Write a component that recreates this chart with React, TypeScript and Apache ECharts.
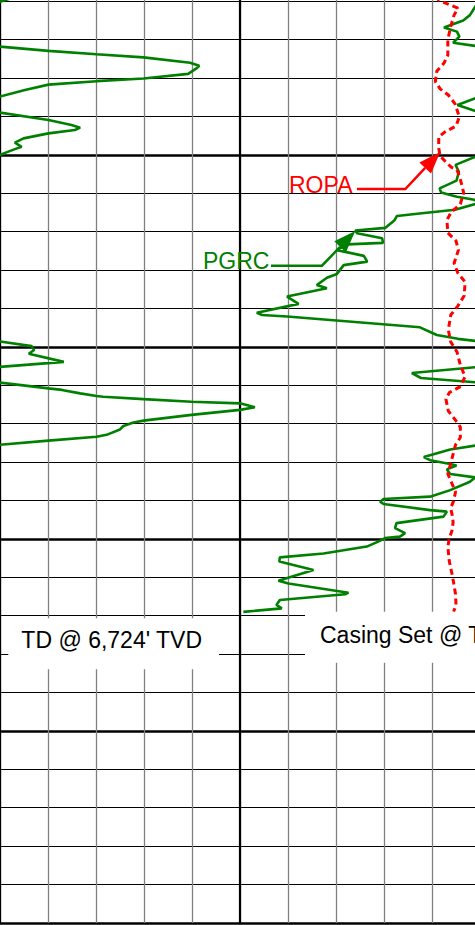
import React, { useEffect, useRef } from "react";
import * as echarts from "echarts";

// Depth (ft, TVD) and PGRC gamma ray (track units, 10 per division; >100 wraps)
const GR_DEPTH = [
  6558.9, 6560.1, 6561.4, 6563.6, 6565.0, 6566.8, 6567.9, 6569.2, 6570.8, 6571.8,
  6572.9, 6573.8, 6574.6, 6576.0, 6576.8, 6577.4, 6578.9, 6580.1, 6580.8, 6581.7,
  6583.1, 6584.8, 6587.0, 6589.0, 6590.9, 6592.2, 6592.9, 6593.5, 6594.4, 6595.7,
  6596.8, 6597.9, 6598.5, 6600.0, 6602.6, 6604.4, 6606.7, 6608.7, 6609.8, 6610.9,
  6611.7, 6612.3, 6612.8, 6614.3, 6615.2, 6615.9, 6617.0, 6619.0, 6619.7, 6620.4,
  6621.7, 6622.9, 6623.3, 6624.8, 6626.3, 6627.8, 6628.7, 6630.0, 6631.0, 6632.0,
  6633.9, 6634.7, 6636.9, 6638.8, 6641.1, 6641.7, 6642.1, 6644.9, 6646.9, 6647.9,
  6648.6, 6649.8, 6650.8, 6651.8, 6653.9, 6655.2, 6656.8, 6658.1, 6659.3, 6660.8,
  6661.2, 6662.1, 6662.8, 6663.0, 6663.6, 6664.3, 6664.7, 6665.7, 6666.4, 6667.7,
  6669.2, 6669.7, 6670.6, 6671.5, 6672.9, 6673.4, 6674.4, 6675.5, 6676.7, 6678.7,
  6679.5, 6680.5, 6680.9, 6681.9, 6683.1, 6684.0, 6685.1, 6687.3, 6689.0, 6689.6,
  6690.3, 6690.9, 6692.5, 6692.9, 6694.2, 6695.9, 6697.2, 6698.5, 6699.4, 6699.8,
  6700.7, 6702.0, 6703.8, 6704.8, 6705.9, 6708.1, 6710.9, 6711.6, 6714.0, 6714.4,
  6715.9, 6717.2, 6718.1, 6719.0,
];
const GR_API = [
  103.1, 100.0, 99.0, 97.9, 96.5, 92.5, 95.2, 95.7, 94.4, 100.0,
  110.1, 120.1, 129.9, 139.6, 141.5, 141.0, 139.2, 129.9, 120.1, 110.1,
  105.2, 100.0, 95.3, 100.0, 110.1, 114.9, 116.7, 115.6, 110.1, 104.9,
  103.1, 104.5, 103.1, 100.0, 94.9, 95.6, 95.1, 91.6, 91.9, 95.2,
  98.8, 99.6, 99.0, 94.8, 87.9, 82.7, 82.2, 80.3, 74.0, 74.4,
  79.6, 79.8, 72.3, 70.2, 75.8, 76.5, 71.6, 70.8, 70.2, 68.1,
  66.0, 68.1, 59.8, 62.2, 53.5, 54.6, 59.8, 87.5, 91.0, 95.4,
  100.0, 106.6, 107.1, 106.0, 113.3, 100.0, 85.8, 87.7, 100.0, 110.1,
  112.9, 116.7, 120.1, 121.5, 129.9, 139.9, 150.0, 153.1, 150.0, 139.9,
  129.9, 127.8, 125.7, 125.0, 122.2, 120.1, 110.1, 100.0, 93.8, 88.3,
  89.6, 93.8, 95.1, 93.1, 93.8, 99.0, 97.9, 93.8, 89.6, 79.9,
  79.2, 79.9, 89.6, 93.1, 92.4, 82.6, 82.3, 84.4, 83.3, 80.2,
  78.8, 76.4, 67.4, 58.3, 58.2, 65.3, 58.0, 60.1, 72.6, 71.9,
  58.3, 57.6, 58.7, 50.7,
];

// ROPA (same track scale)
const ROP_DEPTH = [
  6558.6, 6559.7, 6560.6, 6561.8, 6563.6, 6567.0, 6570.1, 6574.0, 6576.1, 6578.2,
  6580.9, 6582.8, 6584.4, 6586.7, 6590.1, 6592.5, 6594.0, 6595.3, 6598.2, 6600.3,
  6601.6, 6603.2, 6603.9, 6605.8, 6609.9, 6612.8, 6614.9, 6617.0, 6620.3, 6622.4,
  6624.8, 6628.2, 6630.8, 6633.1, 6636.7, 6639.3, 6641.7, 6645.6, 6648.7, 6651.3,
  6654.7, 6657.8, 6660.4, 6661.9, 6663.6, 6666.7, 6668.9, 6670.9, 6673.6, 6675.5,
  6678.4, 6680.8, 6683.1, 6685.7, 6687.8, 6690.1, 6692.0, 6693.8, 6695.6, 6697.7,
  6699.9, 6702.0, 6705.8, 6709.9, 6714.4, 6717.2, 6719.0,
];
const ROP_VALUE = [
  90.8, 91.4, 93.1, 95.4, 94.6, 93.8, 93.3, 93.3, 92.5, 91.0,
  90.7, 91.7, 93.4, 94.8, 95.7, 95.0, 92.7, 91.4, 91.4, 91.7,
  92.7, 94.0, 95.2, 95.8, 96.6, 95.9, 94.0, 93.1, 93.3, 95.0,
  95.5, 94.6, 95.4, 96.9, 96.7, 95.4, 93.9, 93.4, 93.9, 95.2,
  95.9, 96.9, 95.8, 93.6, 92.9, 93.4, 94.8, 95.9, 95.9, 94.9,
  94.3, 93.8, 93.3, 94.2, 94.9, 94.5, 93.9, 94.2, 94.4, 94.2,
  93.6, 93.3, 93.6, 94.3, 94.9, 95.0, 94.5,
];

const WRAP_SHIFT = 100;
const FONT = '23px "Liberation Sans", Arial, Helvetica, sans-serif';
const GREEN = "#008000";
const RED = "#ff0000";

function arrowHead(tip: number[], from: number[], len: number, half: number) {
  const dx = tip[0] - from[0];
  const dy = tip[1] - from[1];
  const l = Math.hypot(dx, dy);
  const ux = dx / l, uy = dy / l;
  const bx = tip[0] - ux * len, by = tip[1] - uy * len;
  return {
    base: [bx, by],
    pts: [tip, [bx - uy * half, by + ux * half], [bx + uy * half, by - ux * half]],
  };
}

const hiddenAxis = {
  axisLine: { show: false },
  axisTick: { show: false },
  axisLabel: { show: false },
};

export default function App() {
  const ref = useRef<HTMLDivElement>(null);
  useEffect(() => {
    const chart = echarts.init(ref.current!, null, { renderer: "svg" });
    const grMain = GR_DEPTH.map((d, i) => [GR_API[i], d]);
    const grWrap = GR_DEPTH.map((d, i) => [GR_API[i] - WRAP_SHIFT, d]);
    const rop = ROP_DEPTH.map((d, i) => [ROP_VALUE[i], d]);

    const ropTip = [440.3, 152];
    const ropBend = [405.3, 189];
    const ropArrow = arrowHead(ropTip, ropBend, 22, 8);
    const grTip = [355.3, 231];
    const grBend = [322, 265.7];
    const grArrow = arrowHead(grTip, grBend, 22, 8);

    chart.setOption({
      animation: false,
      backgroundColor: "#ffffff",
      grid: { left: 0, top: -37.1, width: 480, height: 960, outerBoundsMode: "none", containLabel: false },
      xAxis: [
        {
          type: "value", min: 0, max: 100, interval: 10, position: "bottom", ...hiddenAxis,
          splitLine: { show: true, lineStyle: { color: "#808080", width: 1.3 } },
        },
        {
          type: "value", min: 0, max: 100, interval: 50, position: "top", ...hiddenAxis,
          splitLine: { show: true, lineStyle: { color: "#000000", width: 2.2 } },
        },
      ],
      yAxis: [
        {
          type: "value", inverse: true, min: 6550, max: 6800, interval: 10, position: "left", ...hiddenAxis,
          splitLine: { show: true, lineStyle: { color: "#000000", width: 1 } },
        },
        {
          type: "value", inverse: true, min: 6550, max: 6800, interval: 50, position: "right", ...hiddenAxis,
          splitLine: { show: true, lineStyle: { color: "#000000", width: 2.5 } },
        },
      ],
      series: [
        {
          name: "PGRC", type: "line", data: grMain, symbol: "none", clip: true,
          lineStyle: { color: GREEN, width: 2.6 }, z: 3,
        },
        {
          name: "PGRC wrap", type: "line", data: grWrap, symbol: "none", clip: true,
          lineStyle: { color: GREEN, width: 2.6 }, z: 3,
        },
        {
          name: "ROPA", type: "line", data: rop, symbol: "none", clip: true,
          lineStyle: { color: RED, width: 3, type: [6, 4] }, z: 4,
        },
      ],
      graphic: [
        { type: "rect", z: 100, shape: { x: 8.3, y: 618.3, width: 210.7, height: 51 }, style: { fill: "#ffffff" } },
        {
          type: "text", z: 101, x: 111.7, y: 640.3,
          style: { text: "TD @ 6,724' TVD", font: FONT, fill: "#000000", align: "center", verticalAlign: "middle" },
        },
        { type: "rect", z: 100, shape: { x: 305, y: 611.7, width: 200, height: 51 }, style: { fill: "#ffffff" } },
        {
          type: "text", z: 101, x: 320, y: 634.8,
          style: { text: "Casing Set @ TD", font: FONT, fill: "#000000", align: "left", verticalAlign: "middle" },
        },
        {
          type: "text", z: 101, x: 289, y: 184.8,
          style: { text: "ROPA", font: FONT, fill: RED, align: "left", verticalAlign: "middle" },
        },
        {
          type: "polyline", z: 101,
          shape: { points: [[357, 189], ropBend, ropArrow.base] },
          style: { stroke: RED, lineWidth: 2.5, fill: "none" },
        },
        { type: "polygon", z: 101, shape: { points: ropArrow.pts }, style: { fill: RED } },
        {
          type: "text", z: 101, x: 203, y: 261.3,
          style: { text: "PGRC", font: FONT, fill: GREEN, align: "left", verticalAlign: "middle" },
        },
        {
          type: "polyline", z: 101,
          shape: { points: [[271, 265.7], grBend, grArrow.base] },
          style: { stroke: GREEN, lineWidth: 2.5, fill: "none" },
        },
        { type: "polygon", z: 101, shape: { points: grArrow.pts }, style: { fill: GREEN } },
      ],
    });
    return () => chart.dispose();
  }, []);
  return (
    <div
      ref={ref}
      style={{ position: "fixed", left: 0, top: 0, width: 475, height: 925, background: "#fff" }}
    />
  );
}
